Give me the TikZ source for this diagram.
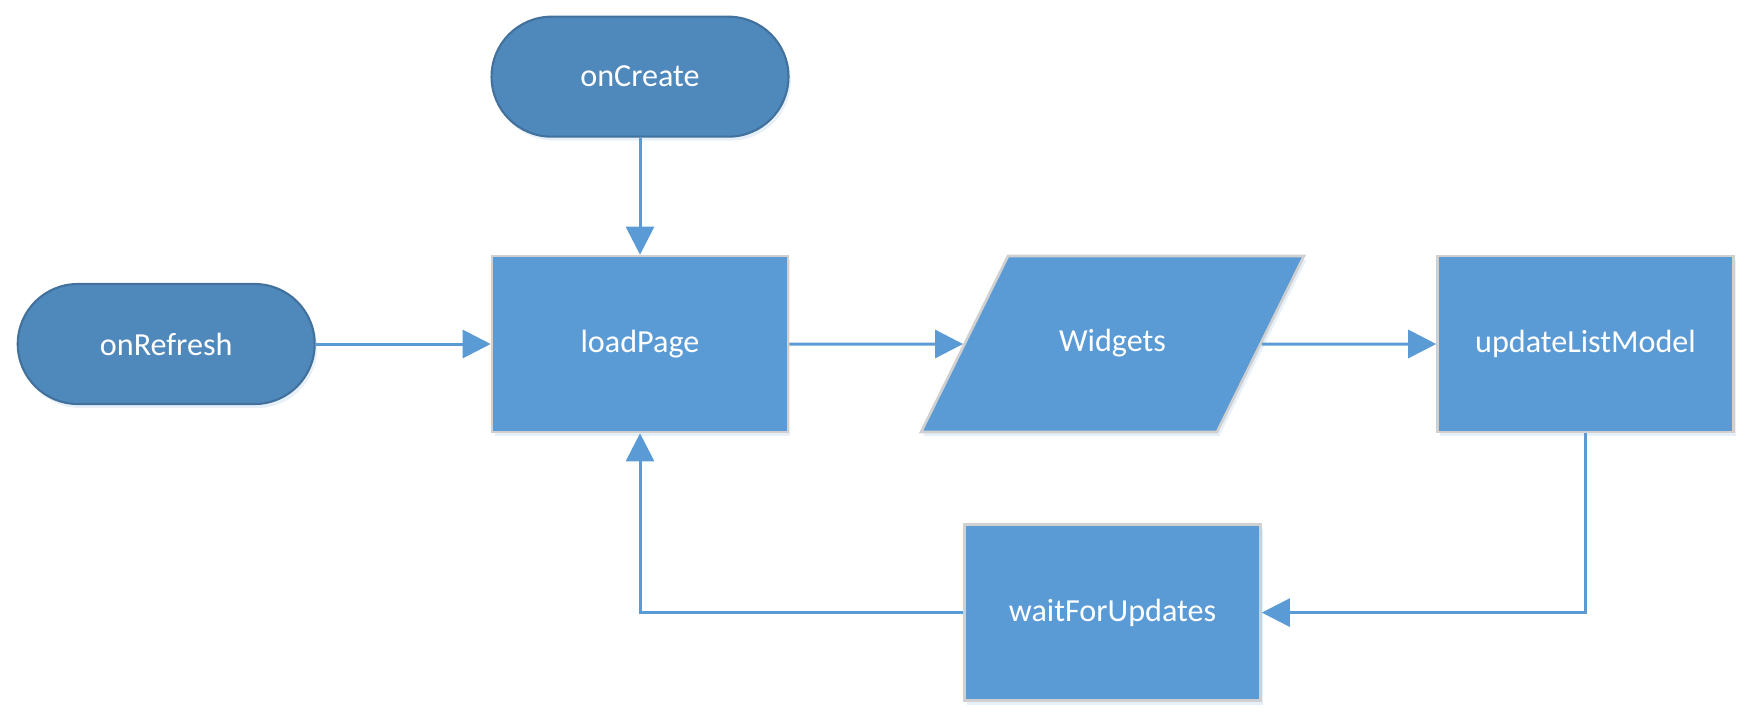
\documentclass[tikz,border=0pt]{standalone}
\usepackage{fontspec}
\setmainfont{Carlito}
\usepackage{tikz}
\usetikzlibrary{positioning,shapes.geometric,arrows.meta,shadows}

\definecolor{termfill}{HTML}{4F88BB}
\definecolor{termline}{HTML}{41719C}
\definecolor{procfill}{HTML}{5B9BD5}
\definecolor{procline}{HTML}{D0D0D0}

\tikzset{
  terminal/.style={rectangle, rounded corners=1.2cm, minimum width=5.94cm, minimum height=2.4cm,
    fill=termfill, draw=termline, line width=1.2pt, text=white,
    drop shadow={shadow xshift=0.05cm, shadow yshift=-0.08cm, fill=procfill, opacity=0.15}},
  process/.style={rectangle, minimum width=5.92cm, minimum height=3.52cm,
    fill=procfill, draw=procline, line width=1.5pt, text=white,
    drop shadow={shadow xshift=0.05cm, shadow yshift=-0.08cm, fill=procfill, opacity=0.15}},
  datanode/.style={trapezium, trapezium left angle=63.7, trapezium right angle=116.3,
    minimum width=0pt, minimum height=0pt, inner xsep=0pt, inner ysep=1.48cm,
    text width=4.18cm, align=center, text height=0.42cm, text depth=0.14cm,
    fill=procfill, draw=procline, line width=1.5pt, text=white,
    drop shadow={shadow xshift=0.05cm, shadow yshift=-0.08cm, fill=procfill, opacity=0.15}},
  flow/.style={draw=procfill, line width=1.7pt, -{Triangle[length=0.56cm, width=0.56cm]}}
}

\begin{document}
\begin{tikzpicture}[x=0.02cm, y=-0.02cm, font=\fontsize{18.3}{22}\selectfont]
\useasboundingbox (0,0) rectangle (1753,727);
\node[process] (loadPage) at (640,344) {loadPage};
\node[terminal, above=2.34cm of loadPage] (onCreate) {onCreate};
\node[terminal, left=3.5cm of loadPage] (onRefresh) {onRefresh};
\node[datanode] (widgets) at (1112.5,344) {Widgets};
\node[process] (updateListModel) at (1585.5,344) {updateListModel};
\node[process, below=1.8cm of widgets] (waitForUpdates) {waitForUpdates};
\draw[flow] (onCreate) -- (loadPage);
\draw[flow] (onRefresh) -- (loadPage);
\draw[flow] (loadPage) -- (widgets);
\draw[flow] (widgets) -- (updateListModel);
\draw[flow] (updateListModel) |- (waitForUpdates);
\draw[flow] (waitForUpdates) -| (loadPage);
\end{tikzpicture}
\end{document}
